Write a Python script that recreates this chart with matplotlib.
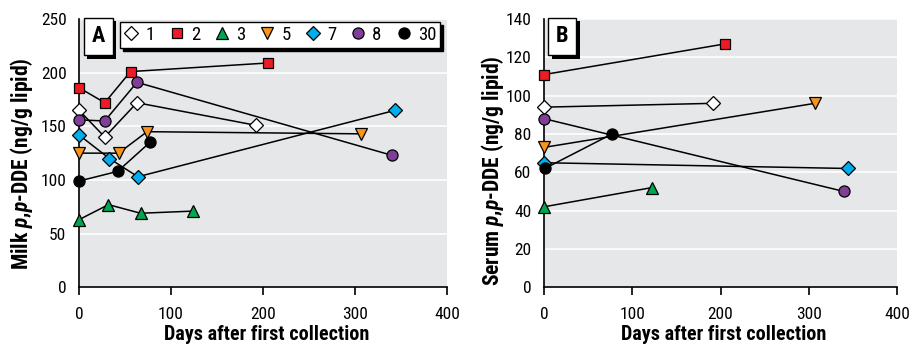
import matplotlib
matplotlib.use("Agg")
import matplotlib.pyplot as plt
from matplotlib import font_manager
import matplotlib.patheffects as pe
from matplotlib.lines import Line2D

# pick a condensed font if one is installed
fam = "DejaVu Sans"
stretch = "normal"
names = {(f.name, f.stretch) for f in font_manager.fontManager.ttflist}
for cand in ["Liberation Sans Narrow", "Roboto Condensed", "Open Sans Condensed"]:
    if any(n == cand for n, _ in names):
        fam = cand
        break
else:
    if any(n == "DejaVu Sans" and s in ("condensed", "semi-condensed") for n, s in names):
        stretch = "condensed"

plt.rcParams['font.family'] = [fam, 'DejaVu Sans']
plt.rcParams['font.stretch'] = stretch
plt.rcParams['mathtext.fontset'] = 'custom'
plt.rcParams['mathtext.it'] = f'{fam}:italic:bold'
plt.rcParams['mathtext.rm'] = f'{fam}:bold'
plt.rcParams['mathtext.bf'] = f'{fam}:bold'

series_labels = ["1", "2", "3", "5", "7", "8", "30"]
markers = ["D", "s", "^", "v", "D", "o", "o"]
colors = ["#ffffff", "#ed1c24", "#00a651", "#f7941d", "#00aeef", "#7f3f98", "#000000"]
msizes = [7, 7.5, 9, 9, 7, 8, 8]

# Panel A: milk
milk_days = {
    "1": [0, 28, 63, 192],
    "2": [0, 28, 56, 205],
    "3": [0, 32, 67, 124],
    "5": [0, 43, 74, 306],
    "7": [0, 33, 64, 344],
    "8": [0, 28, 63, 340],
    "30": [0, 42, 77],
}
milk_vals = {
    "1": [165, 140, 172, 151],
    "2": [186, 172, 201, 209],
    "3": [63, 77, 69, 71],
    "5": [125, 125, 145, 143],
    "7": [142, 120, 103, 165],
    "8": [156, 155, 191, 123],
    "30": [99, 108, 135],
}

# Panel B: serum
serum_days = {
    "1": [0, 192],
    "2": [0, 205],
    "3": [0, 122],
    "5": [0, 307],
    "7": [0, 344],
    "8": [0, 340],
    "30": [1, 77],
}
serum_vals = {
    "1": [94, 96],
    "2": [111, 127],
    "3": [42, 52],
    "5": [73, 96],
    "7": [65, 62],
    "8": [88, 50],
    "30": [62, 80],
}

fig = plt.figure(figsize=(9.09, 3.5), dpi=100)
axA = fig.add_axes([79/909, 1-287.3/350, (447-79)/909, (287.3-19)/350])
axB = fig.add_axes([544/909, 1-287.3/350, (897-544)/909, (287.3-19)/350])

bg = "#e6e7e8"

def style(ax, ymax, ystep, ylabel, ylab_xy, xlab_xy):
    ax.set_facecolor(bg)
    ax.set_xlim(0, 400)
    ax.set_ylim(0, ymax)
    ax.set_xticks([0, 100, 200, 300, 400])
    ax.set_yticks(range(0, ymax + 1, ystep))
    for s in ["top", "right"]:
        ax.spines[s].set_visible(False)
    for s in ["left", "bottom"]:
        ax.spines[s].set_linewidth(1.2)
    ax.yaxis.grid(True, color="white", linewidth=1.2)
    ax.set_axisbelow(True)
    ax.tick_params(axis="y", length=0, labelsize=12.5, pad=9)
    ax.tick_params(axis="x", length=6, width=1.2, direction="out", labelsize=12.5, pad=8)
    ax.set_xlabel("Days after first collection", fontsize=14.5, fontweight="bold",
                  va="center")
    ax.set_ylabel(ylabel, fontsize=15.5, fontweight="bold", va="center")
    ax.yaxis.set_label_coords(*ylab_xy)
    ax.xaxis.set_label_coords(*xlab_xy)

style(axA, 250, 50, r"Milk $p$,$p$-DDE (ng/g lipid)", (-0.155, 0.46), (0.51, -0.177))
style(axB, 140, 20, r"Serum $p$,$p$-DDE (ng/g lipid)", (-0.145, 0.435), (0.51, -0.177))

for lab, m, c, ms in zip(series_labels, markers, colors, msizes):
    axA.plot(milk_days[lab], milk_vals[lab], color="black", linewidth=1.1,
             marker=m, markersize=ms, markerfacecolor=c, markeredgecolor="black",
             markeredgewidth=0.9, label=lab, clip_on=False, zorder=3)
    axB.plot(serum_days[lab], serum_vals[lab], color="black", linewidth=1.1,
             marker=m, markersize=ms, markerfacecolor=c, markeredgecolor="black",
             markeredgewidth=0.9, clip_on=False, zorder=3)

leg_handles = [Line2D([], [], linestyle="none", marker=m, markersize=ms, markerfacecolor=c,
                      markeredgecolor="black", markeredgewidth=0.9)
               for m, c, ms in zip(markers, colors, msizes)]
x0 = (120 - 79) / 368
w = (440 - 120) / 368
y1 = 1 - (22 - 19) / 268.3
h = (44 - 22) / 268.3
leg = axA.legend(leg_handles, series_labels, ncol=7, loc="upper left",
                 bbox_to_anchor=(x0, y1 - h, w, h), mode="expand",
                 frameon=True, fancybox=False,
                 edgecolor="black", framealpha=1, fontsize=13.5, handlelength=0.8,
                 handletextpad=0.35, columnspacing=0.8, borderpad=0.2, borderaxespad=0,
                 shadow={"color": "black", "alpha": 1, "ox": 2.5, "oy": -2.5})
leg.get_frame().set_linewidth(1.0)
leg.set_zorder(6)

def panel_letter_at(ax, letter, x, y):
    t = ax.text(x, y, letter, transform=ax.transAxes, color="black",
                fontsize=16, fontweight="bold", ha="center", va="center", zorder=5,
                bbox=dict(boxstyle="square,pad=0.35", facecolor="white",
                          edgecolor="black", linewidth=1.0))
    t.get_bbox_patch().set_path_effects([
        pe.SimplePatchShadow(offset=(2.5, -2.5), shadow_rgbFace="black", alpha=1.0),
        pe.Normal()])

panel_letter_at(axA, "A", 0.052, 0.935)
panel_letter_at(axB, "B", 0.052, 0.935)

fig.savefig("out.png", dpi=100)
